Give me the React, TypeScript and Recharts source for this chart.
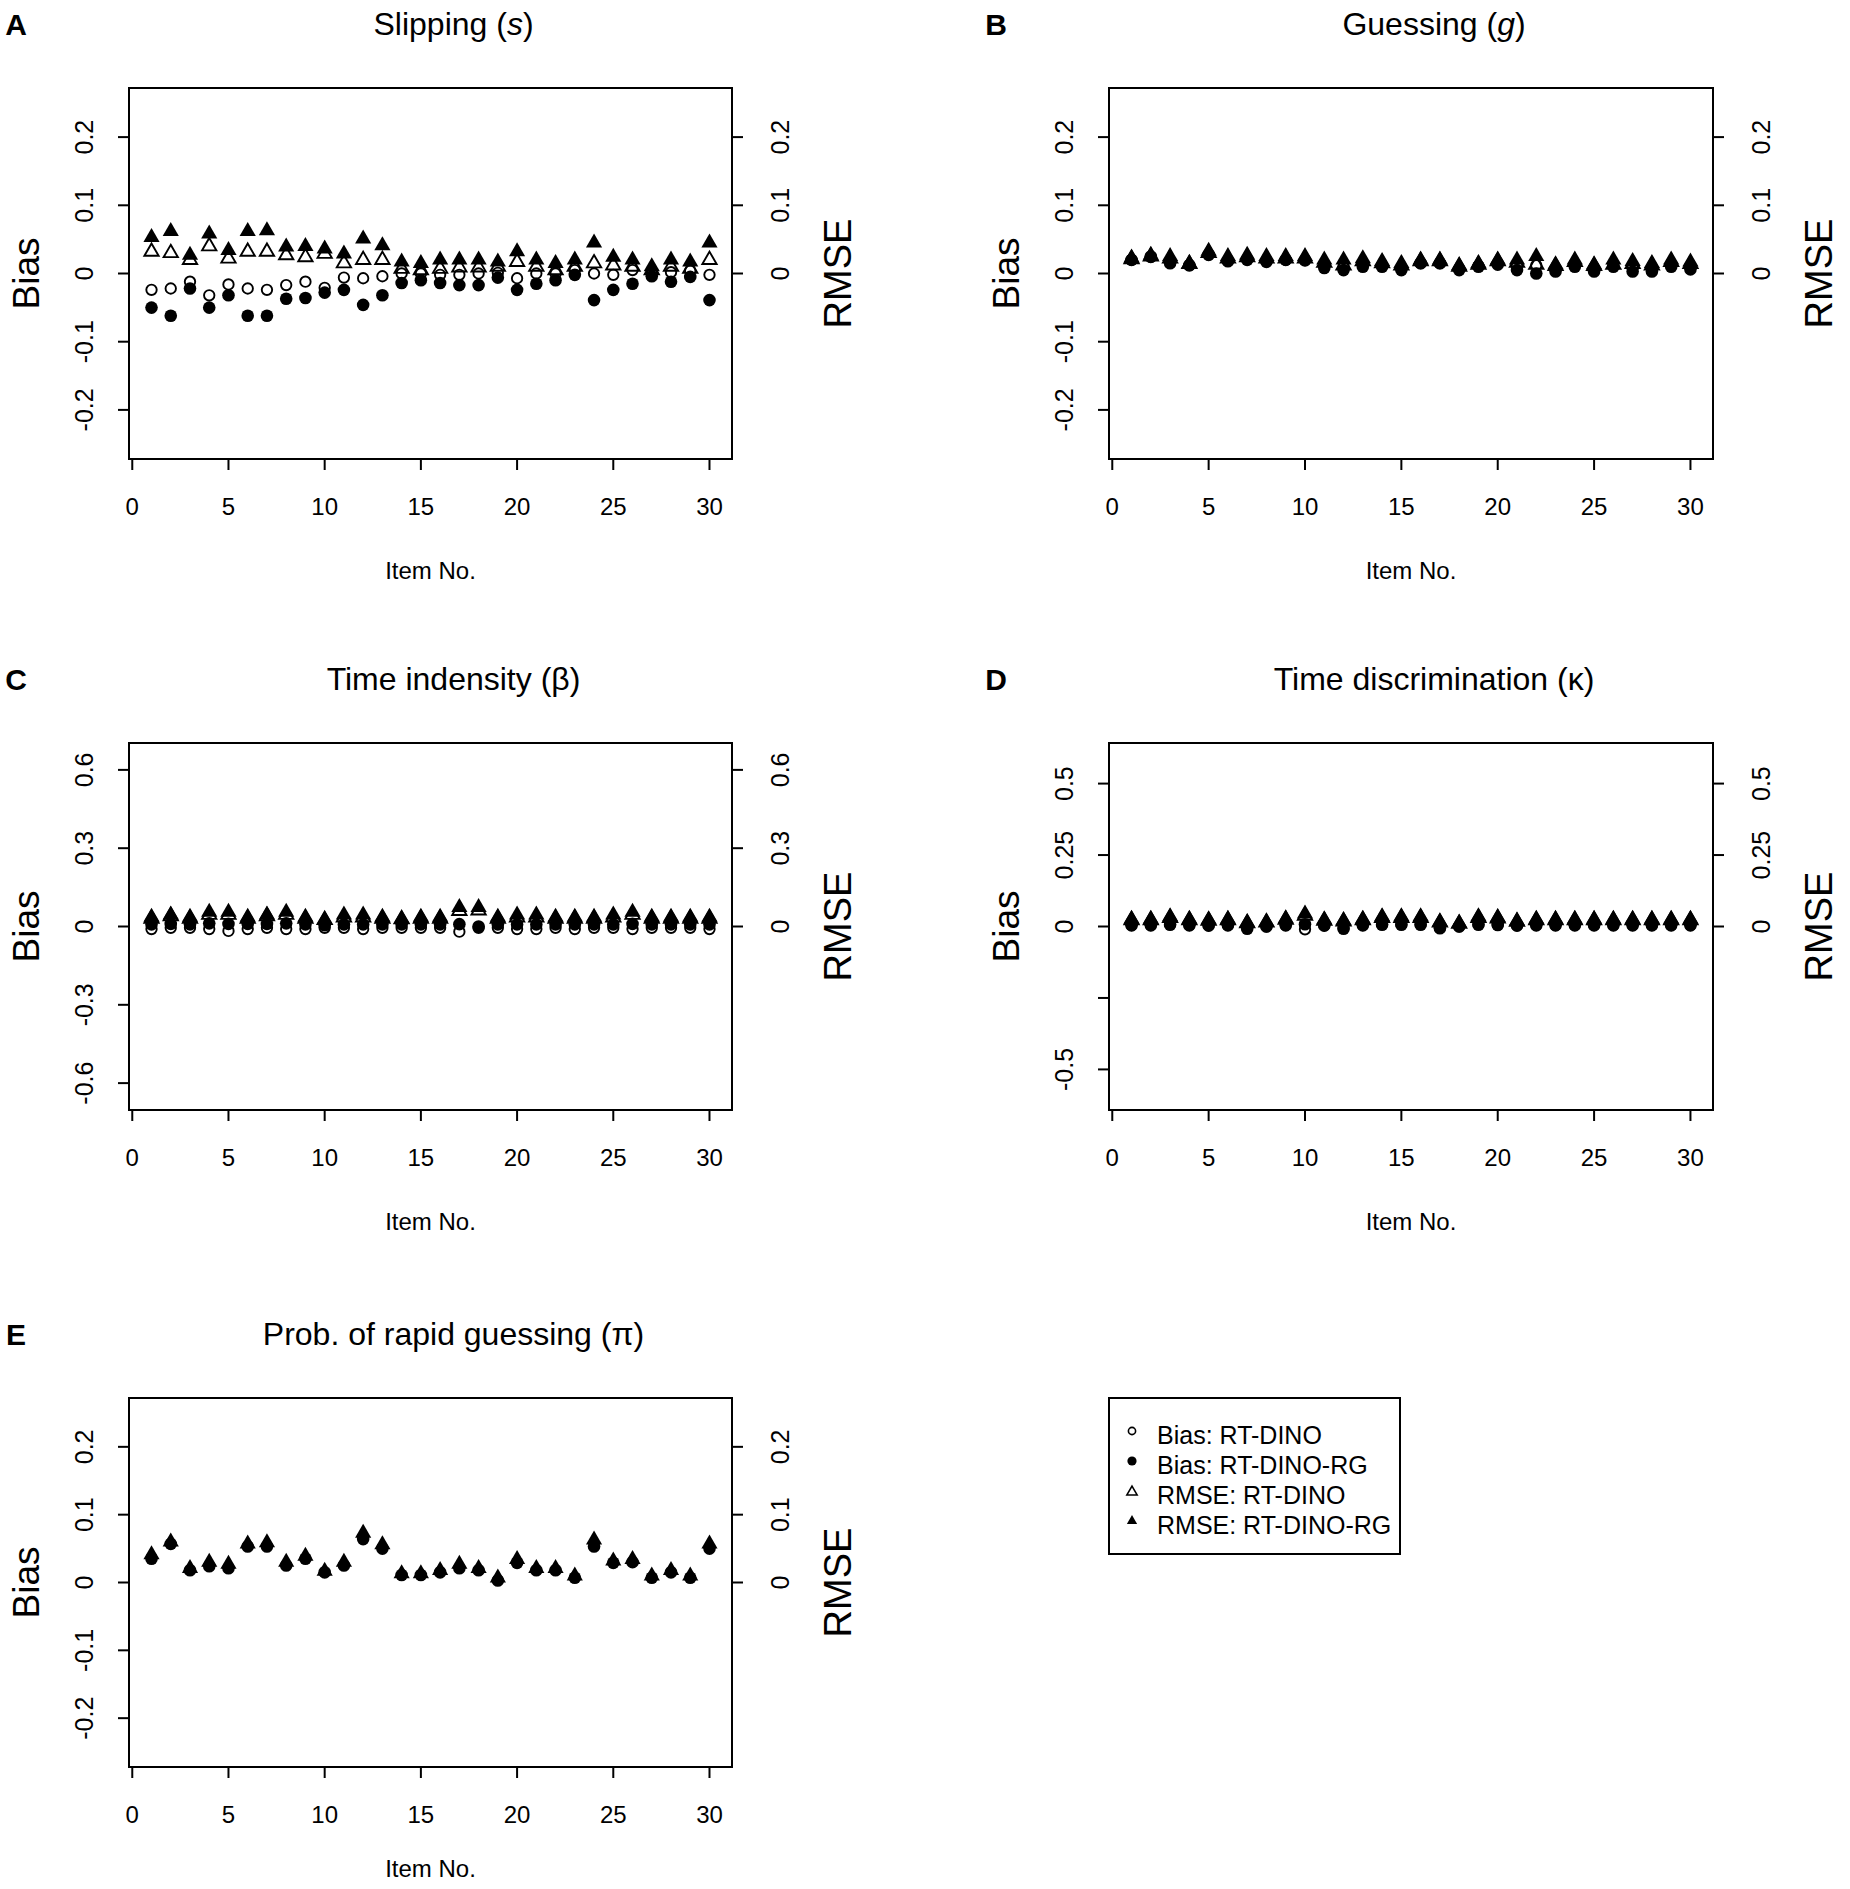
import React from 'react';
import { ScatterChart, Scatter, XAxis, YAxis, ReferenceArea } from 'recharts';

// item numbers on the x axis
const items = [1, 2, 3, 4, 5, 6, 7, 8, 9, 10, 11, 12, 13, 14, 15, 16, 17, 18, 19, 20, 21, 22, 23, 24, 25, 26, 27, 28, 29, 30];
const xTicks = [0, 5, 10, 15, 20, 25, 30];

// A: slipping
const biasDinoA = [-0.024, -0.022, -0.012, -0.032, -0.016, -0.022, -0.024, -0.017, -0.012, -0.021, -0.006, -0.007, -0.004, 0, 0, -0.002, -0.002, 0, 0.001, -0.007, 0, 0, 0.005, 0, -0.002, 0.005, 0, 0.002, 0.004, -0.002];
const biasRgA = [-0.05, -0.062, -0.022, -0.05, -0.032, -0.062, -0.062, -0.037, -0.036, -0.028, -0.024, -0.046, -0.032, -0.014, -0.01, -0.014, -0.017, -0.017, -0.006, -0.024, -0.015, -0.01, -0.002, -0.039, -0.024, -0.015, -0.004, -0.012, -0.005, -0.039];
const rmseDinoA = [0.032, 0.03, 0.02, 0.04, 0.022, 0.032, 0.032, 0.027, 0.024, 0.029, 0.015, 0.02, 0.02, 0.007, 0.005, 0.007, 0.009, 0.009, 0.01, 0.017, 0.01, 0.005, 0.01, 0.015, 0.012, 0.01, 0.005, 0.01, 0.007, 0.02];
const rmseRgA = [0.053, 0.062, 0.027, 0.058, 0.034, 0.062, 0.063, 0.039, 0.04, 0.036, 0.029, 0.051, 0.041, 0.017, 0.015, 0.02, 0.02, 0.02, 0.017, 0.032, 0.02, 0.015, 0.02, 0.045, 0.024, 0.02, 0.01, 0.02, 0.017, 0.045];

// B: guessing
const biasDinoB = [0.02, 0.024, 0.018, 0.012, 0.027, 0.019, 0.021, 0.018, 0.02, 0.019, 0.012, 0.01, 0.014, 0.012, 0.008, 0.015, 0.015, 0.007, 0.011, 0.015, 0.012, 0.012, 0.007, 0.013, 0.008, 0.012, 0.008, 0.008, 0.012, 0.009];
const biasRgB = [0.02, 0.025, 0.015, 0.012, 0.028, 0.018, 0.02, 0.017, 0.02, 0.02, 0.008, 0.005, 0.01, 0.01, 0.005, 0.015, 0.015, 0.005, 0.01, 0.013, 0.005, 0.0, 0.003, 0.01, 0.003, 0.01, 0.003, 0.003, 0.01, 0.006];
const rmseDinoB = [0.021, 0.025, 0.022, 0.014, 0.03, 0.022, 0.024, 0.022, 0.022, 0.022, 0.016, 0.012, 0.018, 0.015, 0.012, 0.018, 0.018, 0.01, 0.013, 0.018, 0.016, 0.013, 0.011, 0.017, 0.011, 0.013, 0.014, 0.012, 0.017, 0.014];
const rmseRgB = [0.023, 0.027, 0.025, 0.015, 0.033, 0.025, 0.027, 0.025, 0.025, 0.025, 0.02, 0.02, 0.022, 0.018, 0.015, 0.02, 0.02, 0.012, 0.015, 0.02, 0.02, 0.025, 0.013, 0.02, 0.013, 0.02, 0.018, 0.015, 0.02, 0.017];

// C: time intensity
const biasDinoC = [-0.01, -0.005, -0.005, -0.01, -0.017, -0.01, -0.005, -0.01, -0.01, -0.005, -0.005, -0.01, -0.005, -0.005, -0.005, -0.005, -0.02, -0.005, -0.005, -0.01, -0.01, -0.005, -0.01, -0.005, -0.005, -0.01, -0.005, -0.005, -0.005, -0.01];
const biasRgC = [0.008, 0.01, 0.008, 0.012, 0.01, 0.01, 0.01, 0.012, 0.008, 0.005, 0.008, 0.008, 0.008, 0.008, 0.008, 0.008, 0.009, 0.0, 0.008, 0.008, 0.008, 0.008, 0.008, 0.008, 0.008, 0.01, 0.008, 0.008, 0.008, 0.008];
const rmseDinoC = [0.03, 0.04, 0.03, 0.045, 0.045, 0.03, 0.04, 0.045, 0.03, 0.025, 0.035, 0.035, 0.03, 0.028, 0.03, 0.03, 0.06, 0.062, 0.03, 0.035, 0.035, 0.03, 0.03, 0.03, 0.035, 0.045, 0.03, 0.03, 0.03, 0.03];
const rmseRgC = [0.036, 0.045, 0.036, 0.055, 0.055, 0.036, 0.045, 0.055, 0.036, 0.026, 0.045, 0.045, 0.036, 0.028, 0.036, 0.036, 0.073, 0.073, 0.036, 0.045, 0.045, 0.036, 0.036, 0.036, 0.045, 0.055, 0.036, 0.036, 0.036, 0.036];

// D: time discrimination
const biasDinoD = [0.005, 0.005, 0.008, 0.005, 0.004, 0.005, -0.005, 0.0, 0.005, -0.01, 0.004, -0.004, 0.005, 0.008, 0.008, 0.008, -0.004, 0.0, 0.008, 0.006, 0.004, 0.005, 0.005, 0.005, 0.005, 0.005, 0.005, 0.005, 0.005, 0.005];
const biasRgD = [0.004, 0.004, 0.006, 0.004, 0.003, 0.004, -0.008, 0.0, 0.004, 0.008, 0.003, -0.008, 0.004, 0.006, 0.006, 0.006, -0.006, 0.0, 0.006, 0.005, 0.003, 0.004, 0.004, 0.004, 0.004, 0.004, 0.004, 0.004, 0.004, 0.004];
const rmseDinoD = [0.022, 0.022, 0.03, 0.022, 0.02, 0.022, 0.012, 0.014, 0.024, 0.038, 0.02, 0.018, 0.022, 0.03, 0.03, 0.03, 0.014, 0.01, 0.03, 0.028, 0.017, 0.022, 0.022, 0.022, 0.022, 0.022, 0.022, 0.022, 0.022, 0.022];
const rmseRgD = [0.026, 0.026, 0.035, 0.026, 0.024, 0.026, 0.014, 0.016, 0.028, 0.044, 0.024, 0.022, 0.026, 0.035, 0.035, 0.035, 0.016, 0.012, 0.035, 0.032, 0.02, 0.026, 0.026, 0.026, 0.026, 0.026, 0.026, 0.026, 0.026, 0.026];

// E: probability of rapid guessing (RT-DINO-RG only)
const biasRgE = [0.035, 0.057, 0.018, 0.024, 0.021, 0.053, 0.053, 0.025, 0.035, 0.015, 0.025, 0.064, 0.05, 0.011, 0.011, 0.015, 0.021, 0.018, 0.003, 0.029, 0.018, 0.018, 0.007, 0.053, 0.029, 0.03, 0.007, 0.015, 0.007, 0.05];
const rmseRgE = [0.041, 0.06, 0.021, 0.03, 0.027, 0.057, 0.059, 0.03, 0.039, 0.017, 0.03, 0.073, 0.056, 0.013, 0.013, 0.018, 0.027, 0.021, 0.007, 0.034, 0.021, 0.021, 0.01, 0.063, 0.032, 0.034, 0.01, 0.018, 0.01, 0.057];

const legendLabels = ['Bias: RT-DINO', 'Bias: RT-DINO-RG', 'RMSE: RT-DINO', 'RMSE: RT-DINO-RG'];

const FONT = 'Liberation Sans, Arial, Helvetica, sans-serif';
const xDomain: [number, number] = [-0.17, 31.17];

const triPath = (cx: number, cy: number, r: number) =>
  `M${cx},${cy - 1.555 * r} L${cx + 1.347 * r},${cy + 0.778 * r} L${cx - 1.347 * r},${cy + 0.778 * r} Z`;

const OpenCircle = (p: any) => <circle cx={p.cx} cy={p.cy} r={5.2} fill="none" stroke="#000" strokeWidth={1.9} />;
const FilledCircle = (p: any) => <circle cx={p.cx} cy={p.cy} r={6.3} fill="#000" />;
const OpenTri = (p: any) => <path d={triPath(p.cx, p.cy, 5.3)} fill="none" stroke="#000" strokeWidth={1.9} />;
const FilledTri = (p: any) => <path d={triPath(p.cx, p.cy, 6)} fill="#000" />;

const fmt = (v: number) => (v === 0 ? '0' : String(v));

const XTick = (p: any) => (
  <text x={p.x} y={p.y + 36} textAnchor="middle" dominantBaseline="central" fontSize={24} fontFamily={FONT} fill="#000">
    {fmt(p.payload.value)}
  </text>
);

const makeYTick = (dx: number, hidden: number[]) => (p: any) => {
  const v = p.payload.value;
  if (hidden.includes(v)) return <g />;
  const x = p.x + dx;
  return (
    <text x={x} y={p.y} transform={`rotate(-90, ${x}, ${p.y})`} textAnchor="middle" dominantBaseline="central" fontSize={25} fontFamily={FONT} fill="#000">
      {fmt(v)}
    </text>
  );
};

const toPts = (vals: number[]) => vals.map((y, i) => ({ x: items[i], y }));

type PanelProps = {
  L: number; T: number; W: number; H: number;
  domain: [number, number];
  leftTicks: number[]; hidden?: number[]; rightTicks: number[];
  biasDino?: number[]; biasRg: number[]; rmseDino?: number[]; rmseRg: number[];
};

const Panel = ({ L, T, W, H, domain, leftTicks, hidden = [], rightTicks, biasDino, biasRg, rmseDino, rmseRg }: PanelProps) => {
  const padL = 129, padR = 168, padT = 20, padB = 80;
  const tickLine = { stroke: '#000', strokeWidth: 2 };
  return (
    <div style={{ position: 'absolute', left: L - padL, top: T - padT }}>
      <ScatterChart width={padL + W + padR} height={padT + H + padB} margin={{ top: padT, right: 0, bottom: 0, left: 0 }}>
        <XAxis type="number" dataKey="x" domain={xDomain} ticks={xTicks} allowDataOverflow interval={0}
          axisLine={false} tickLine={tickLine} tickSize={11} tickMargin={0} height={padB} tick={XTick} />
        <YAxis yAxisId="l" type="number" dataKey="y" domain={domain} ticks={leftTicks} allowDataOverflow interval={0}
          axisLine={false} tickLine={tickLine} tickSize={11} tickMargin={0} width={padL} tick={makeYTick(-34, hidden)} />
        <YAxis yAxisId="r" orientation="right" type="number" dataKey="y" domain={domain} ticks={rightTicks} allowDataOverflow interval={0}
          axisLine={false} tickLine={tickLine} tickSize={11} tickMargin={0} width={padR} tick={makeYTick(37, [])} />
        <ReferenceArea yAxisId="l" x1={xDomain[0]} x2={xDomain[1]} y1={domain[0]} y2={domain[1]}
          fill="none" stroke="#000" strokeWidth={2} ifOverflow="visible" />
        {biasDino && <Scatter yAxisId="l" data={toPts(biasDino)} shape={OpenCircle} isAnimationActive={false} />}
        <Scatter yAxisId="l" data={toPts(biasRg)} shape={FilledCircle} isAnimationActive={false} />
        {rmseDino && <Scatter yAxisId="r" data={toPts(rmseDino)} shape={OpenTri} isAnimationActive={false} />}
        <Scatter yAxisId="r" data={toPts(rmseRg)} shape={FilledTri} isAnimationActive={false} />
      </ScatterChart>
    </div>
  );
};

const panels = [
  { id: 'A', title: <>Slipping (<tspan fontStyle="italic">s</tspan>)</>, L: 129, T: 88, W: 603, H: 371, domain: [-0.272, 0.272] as [number, number],
    leftTicks: [-0.2, -0.1, 0, 0.1, 0.2], rightTicks: [0, 0.1, 0.2], biasDino: biasDinoA, biasRg: biasRgA, rmseDino: rmseDinoA, rmseRg: rmseRgA },
  { id: 'B', title: <>Guessing (<tspan fontStyle="italic">g</tspan>)</>, L: 1109, T: 88, W: 604, H: 371, domain: [-0.272, 0.272] as [number, number],
    leftTicks: [-0.2, -0.1, 0, 0.1, 0.2], rightTicks: [0, 0.1, 0.2], biasDino: biasDinoB, biasRg: biasRgB, rmseDino: rmseDinoB, rmseRg: rmseRgB },
  { id: 'C', title: <>Time indensity (β)</>, L: 129, T: 743, W: 603, H: 367, domain: [-0.703, 0.703] as [number, number],
    leftTicks: [-0.6, -0.3, 0, 0.3, 0.6], rightTicks: [0, 0.3, 0.6], biasDino: biasDinoC, biasRg: biasRgC, rmseDino: rmseDinoC, rmseRg: rmseRgC },
  { id: 'D', title: <>Time discrimination (κ)</>, L: 1109, T: 743, W: 604, H: 367, domain: [-0.642, 0.642] as [number, number],
    leftTicks: [-0.5, -0.25, 0, 0.25, 0.5], hidden: [-0.25], rightTicks: [0, 0.25, 0.5], biasDino: biasDinoD, biasRg: biasRgD, rmseDino: rmseDinoD, rmseRg: rmseRgD },
  { id: 'E', title: <>Prob. of rapid guessing (π)</>, L: 129, T: 1398, W: 603, H: 369, domain: [-0.272, 0.272] as [number, number],
    leftTicks: [-0.2, -0.1, 0, 0.1, 0.2], rightTicks: [0, 0.1, 0.2], biasRg: biasRgE, rmseRg: rmseRgE },
];

const Legend = () => {
  const x0 = 1109, y0 = 1398, rows = [1435, 1465, 1495, 1525], sx = 1132;
  const symbols = [
    <circle key="s0" cx={sx} cy={rows[0] - 4} r={3.6} fill="none" stroke="#000" strokeWidth={1.6} />,
    <circle key="s1" cx={sx} cy={rows[1] - 4} r={4.6} fill="#000" />,
    <path key="s2" d={triPath(sx, rows[2] - 3, 3.8)} fill="none" stroke="#000" strokeWidth={1.6} />,
    <path key="s3" d={triPath(sx, rows[3] - 4, 3.8)} fill="#000" />,
  ];
  return (
    <g>
      <rect x={x0} y={y0} width={291} height={156} fill="none" stroke="#000" strokeWidth={2} />
      {symbols}
      {legendLabels.map((t, i) => (
        <text key={t} x={1157} y={rows[i]} dominantBaseline="central" fontSize={25} fontFamily={FONT} fill="#000">{t}</text>
      ))}
    </g>
  );
};

export default function App() {
  return (
    <div style={{ position: 'absolute', left: 0, top: 0, width: 1850, height: 1889, background: '#fff' }}>
      {panels.map((p) => (
        <Panel key={p.id} L={p.L} T={p.T} W={p.W} H={p.H} domain={p.domain} leftTicks={p.leftTicks} hidden={(p as any).hidden}
          rightTicks={p.rightTicks} biasDino={(p as any).biasDino} biasRg={p.biasRg} rmseDino={(p as any).rmseDino} rmseRg={p.rmseRg} />
      ))}
      <svg width={1850} height={1889} style={{ position: 'absolute', left: 0, top: 0, pointerEvents: 'none' }}>
        {panels.map((p) => {
          const cx = p.L + p.W / 2;
          const cy = p.T + p.H / 2;
          const bx = p.L - 90;
          const rx = p.L + p.W + 119;
          const itemY = Math.min(p.T + p.H + 111, 1868);
          return (
            <g key={p.id} fontFamily={FONT} fill="#000">
              <text x={p.L - 113} y={p.T - 64} textAnchor="middle" dominantBaseline="central" fontSize={30} fontWeight="bold">{p.id}</text>
              <text x={cx + 23} y={p.T - 64} textAnchor="middle" dominantBaseline="central" fontSize={32}>{p.title}</text>
              <text x={bx} y={cy} transform={`rotate(-90, ${bx}, ${cy})`} textAnchor="middle" fontSize={37}>Bias</text>
              <text x={rx} y={cy} transform={`rotate(-90, ${rx}, ${cy})`} textAnchor="middle" fontSize={38}>RMSE</text>
              <text x={cx} y={itemY} textAnchor="middle" dominantBaseline="central" fontSize={24}>Item No.</text>
            </g>
          );
        })}
        <Legend />
      </svg>
    </div>
  );
}
